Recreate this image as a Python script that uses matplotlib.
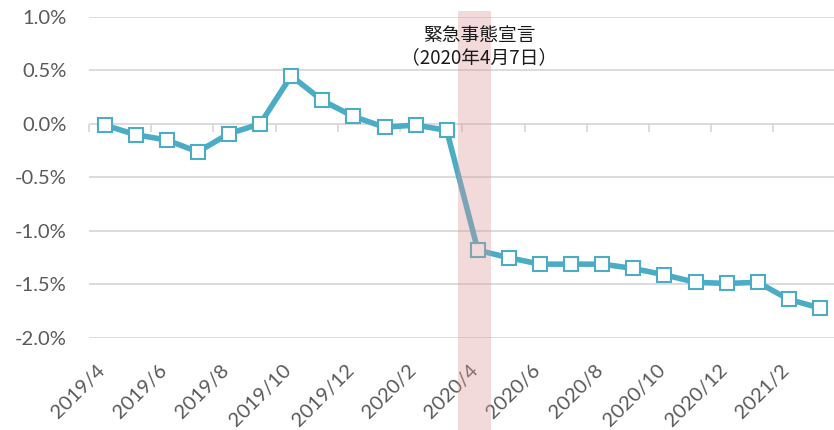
import numpy as np
import matplotlib
matplotlib.use("Agg")
import matplotlib.pyplot as plt
from matplotlib.patches import Rectangle
from matplotlib.transforms import blended_transform_factory, ScaledTranslation

plt.rcParams['font.family'] = ['Lato', 'DejaVu Sans', 'Noto Sans CJK JP']

# monthly values, 2019/4 .. 2021/3 (%)
months = ['2019/4', '2019/5', '2019/6', '2019/7', '2019/8', '2019/9', '2019/10', '2019/11',
          '2019/12', '2020/1', '2020/2', '2020/3', '2020/4', '2020/5', '2020/6', '2020/7',
          '2020/8', '2020/9', '2020/10', '2020/11', '2020/12', '2021/1', '2021/2', '2021/3']
values = [-0.01, -0.10, -0.15, -0.26, -0.09, 0.00, 0.45, 0.22,
          0.07, -0.03, -0.01, -0.06, -1.18, -1.25, -1.31, -1.31,
          -1.31, -1.35, -1.41, -1.48, -1.49, -1.48, -1.64, -1.72]
yticks = [1.0, 0.5, 0.0, -0.5, -1.0, -1.5, -2.0]

# shaded period (state of emergency), in month-index units
band_start = 11.37
band_end = 12.42
band_label = '緊急事態宣言\n（2020年4月7日）'

line_color = '#4BACC6'
grid_color = '#d9d9d9'
text_color = '#595959'

fig = plt.figure(figsize=(8.34, 4.30), dpi=100)
ax = fig.add_axes([0.1067, 0.214, 0.8952, 0.7465])

x = np.arange(len(months))
ax.plot(x, values, color=line_color, lw=4, marker='s', ms=10,
        mfc='white', mec=line_color, mew=1.5, zorder=2)

ax.set_xlim(-0.5, len(months) - 0.5)
ax.set_ylim(-2.0, 1.0)
ax.set_yticks(yticks)
ax.set_yticklabels([f'{v:.1f}%' for v in yticks])
ax.set_xticks(x[::2])
ax.set_xticklabels(months[::2], rotation=45, ha='right', va='top', rotation_mode='anchor')

ax.grid(axis='y', color=grid_color, lw=1.3)
ax.set_axisbelow(True)
for s in ax.spines.values():
    s.set_visible(False)
ax.tick_params(axis='both', length=0, labelsize=14.5, labelcolor=text_color)
ax.tick_params(axis='y', pad=16)
ax.tick_params(axis='x', pad=17)

# nudge rotated labels a little to the left
shift = ScaledTranslation(-6 / 72, 0, fig.dpi_scale_trans)
for lab in ax.get_xticklabels():
    lab.set_transform(lab.get_transform() + shift)

# tick marks on the zero line, every two months at category boundaries
zero_pos = (0 - ax.get_ylim()[0]) / (ax.get_ylim()[1] - ax.get_ylim()[0])
sec = ax.secondary_xaxis(zero_pos)
sec.set_xticks(np.arange(-0.5, len(months), 2))
sec.xaxis.set_ticks_position('bottom')
sec.tick_params(axis='x', direction='out', length=6, width=1.3, color=grid_color,
                labelbottom=False, labeltop=False)
sec.spines['bottom'].set_visible(False)
sec.spines['top'].set_visible(False)

# shaded band, running from the top of the plot down past the labels
trans = blended_transform_factory(ax.transData, ax.transAxes)
ax.add_patch(Rectangle((band_start, -0.3), band_end - band_start, 1.32,
                       transform=trans, facecolor='#d99694', alpha=0.35,
                       edgecolor='none', clip_on=False, zorder=3))

ax.text(12.05, 0.908, band_label, transform=trans, ha='center', va='center',
        fontsize=13.5, color='#1a1a1a', linespacing=1.05,
        family=['Noto Sans CJK JP', 'DejaVu Sans'], zorder=4)

fig.savefig('out.png', dpi=100)
